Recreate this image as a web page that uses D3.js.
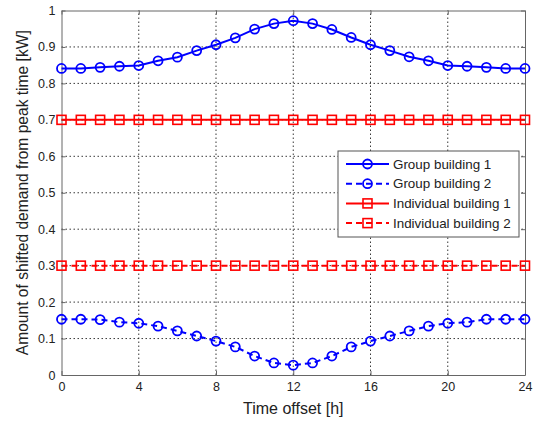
<!DOCTYPE html>
<html>
<head>
<meta charset="utf-8">
<script src="https://cdn.jsdelivr.net/npm/d3@7"></script>
<style>
  body { margin: 0; background: #fff; }
  svg text { font-family: "Liberation Sans", Arial, sans-serif; fill: #222; }
</style>
</head>
<body>
<svg id="chart"></svg>
<script>
// hours 0..24
const hours = d3.range(0, 25)
const group1 = [0.841, 0.841, 0.844, 0.847, 0.849, 0.862, 0.872, 0.890, 0.906, 0.925, 0.949, 0.964, 0.972,
                0.964, 0.948, 0.926, 0.906, 0.890, 0.873, 0.862, 0.849, 0.847, 0.844, 0.841, 0.841]
const group2 = [0.153, 0.153, 0.152, 0.145, 0.142, 0.134, 0.121, 0.107, 0.093, 0.077, 0.052, 0.033, 0.027,
                0.033, 0.052, 0.077, 0.093, 0.107, 0.121, 0.134, 0.142, 0.145, 0.153, 0.153, 0.153]
const indiv1 = hours.map(() => 0.7)
const indiv2 = hours.map(() => 0.3)
const seriesNames = ["Group building 1", "Group building 2", "Individual building 1", "Individual building 2"]
const xTicks = [0, 4, 8, 12, 16, 20, 24]
const yTicks = [0, 0.1, 0.2, 0.3, 0.4, 0.5, 0.6, 0.7, 0.8, 0.9, 1]

const width = 542, height = 422
const m = {left: 61.5, top: 10.5, right: 17, bottom: 47}

var svg = d3.select("#chart").attr("width", width).attr("height", height)

var x = d3.scaleLinear().domain([0, 24]).range([m.left, width - m.right])
var y = d3.scaleLinear().domain([0, 1]).range([height - m.bottom, m.top])

// grid
var grid = svg.append("g")
grid.selectAll(".gx").data(xTicks.slice(1, -1)).enter().append("line")
    .attr("x1", d => x(d)).attr("x2", d => x(d))
    .attr("y1", y(0)).attr("y2", y(1))
    .attr("stroke", "#222").attr("stroke-width", 0.9).attr("stroke-dasharray", "1.5,2.5")
grid.selectAll(".gy").data(yTicks.slice(1, -1)).enter().append("line")
    .attr("x1", x(0)).attr("x2", x(24))
    .attr("y1", d => y(d)).attr("y2", d => y(d))
    .attr("stroke", "#222").attr("stroke-width", 0.9).attr("stroke-dasharray", "1.5,2.5")

// axes
var xAxis = svg.append("g").attr("transform", "translate(0," + y(0) + ")")
    .call(d3.axisBottom(x).tickValues(xTicks).tickSizeInner(-4).tickSizeOuter(0).tickPadding(7))
var yAxis = svg.append("g").attr("transform", "translate(" + x(0) + ",0)")
    .call(d3.axisLeft(y).tickValues(yTicks).tickFormat(d3.format("~g")).tickSizeInner(-4).tickSizeOuter(0).tickPadding(6))
var xTop = svg.append("g").attr("transform", "translate(0," + y(1) + ")")
    .call(d3.axisTop(x).tickValues(xTicks).tickSizeInner(-4).tickSizeOuter(0).tickFormat(""))
var yRight = svg.append("g").attr("transform", "translate(" + x(24) + ",0)")
    .call(d3.axisRight(y).tickValues(yTicks).tickSizeInner(-4).tickSizeOuter(0).tickFormat(""))
;[xAxis, yAxis, xTop, yRight].forEach(a => {
    a.selectAll("path, line").attr("stroke", "#666")
    a.selectAll("text").attr("font-size", 12.5).attr("fill", "#222")
})

// axis labels
svg.append("text").attr("x", (x(0) + x(24)) / 2).attr("y", 414)
    .attr("text-anchor", "middle").attr("font-size", 16).text("Time offset [h]")
svg.append("text").attr("transform", "translate(28," + (y(0) + y(1)) / 2 + ") rotate(-90)")
    .attr("text-anchor", "middle").attr("font-size", 15.6).text("Amount of shifted demand from peak time [kW]")

var series = [
    {name: seriesNames[0], values: group1, color: "#0000ff", dash: null, marker: "circle"},
    {name: seriesNames[1], values: group2, color: "#0000ff", dash: "6,4", marker: "circle"},
    {name: seriesNames[2], values: indiv1, color: "#ff0000", dash: null, marker: "square"},
    {name: seriesNames[3], values: indiv2, color: "#ff0000", dash: "6,4", marker: "square"}
]

var line = d3.line().x((d, i) => x(hours[i])).y(d => y(d))

function drawMarker(g, type, cx, cy, color) {
    if (type == "circle") {
        g.append("circle").attr("cx", cx).attr("cy", cy).attr("r", 4.5)
            .attr("fill", "none").attr("stroke", color).attr("stroke-width", 1.8)
    } else {
        g.append("rect").attr("x", cx - 4.5).attr("y", cy - 4.5).attr("width", 9).attr("height", 9)
            .attr("fill", "none").attr("stroke", color).attr("stroke-width", 1.6)
    }
}

series.forEach(s => {
    var g = svg.append("g")
    g.append("path").attr("d", line(s.values))
        .attr("fill", "none").attr("stroke", s.color).attr("stroke-width", 2)
        .attr("stroke-dasharray", s.dash)
    s.values.forEach((v, i) => drawMarker(g, s.marker, x(hours[i]), y(v), s.color))
})

// legend
var lg = svg.append("g").attr("transform", "translate(338,151)")
lg.append("rect").attr("width", 181).attr("height", 86)
    .attr("fill", "#fff").attr("stroke", "#555").attr("stroke-width", 1)
series.forEach((s, i) => {
    var ly = 13 + i * 19.7
    lg.append("line").attr("x1", 8).attr("x2", 51).attr("y1", ly).attr("y2", ly)
        .attr("stroke", s.color).attr("stroke-width", 2).attr("stroke-dasharray", s.dash)
    drawMarker(lg, s.marker, 29.5, ly, s.color)
    lg.append("text").attr("x", 55).attr("y", ly + 4.5).attr("font-size", 13.4).text(s.name)
})
</script>
</body>
</html>
